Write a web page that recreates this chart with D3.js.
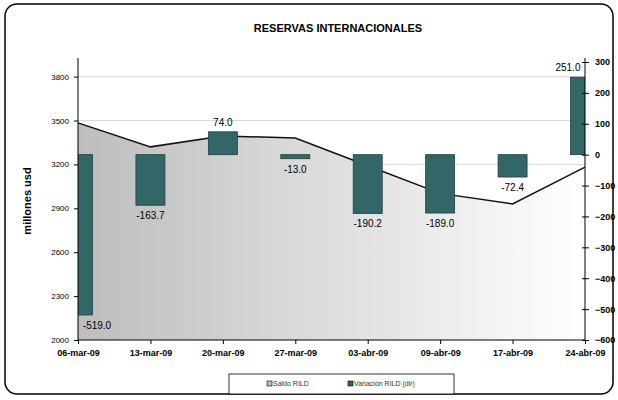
<!DOCTYPE html>
<html>
<head>
<meta charset="utf-8">
<script src="https://cdn.jsdelivr.net/npm/d3@7/dist/d3.min.js"></script>
<style>
  body { margin: 0; background: #fff; }
  text { font-family: "Liberation Sans", Arial, sans-serif; }
</style>
</head>
<body>
<div id="chart"></div>
<script>
var fechas = ['06-mar-09', '13-mar-09', '20-mar-09', '27-mar-09', '03-abr-09', '09-abr-09', '17-abr-09', '24-abr-09'];
var saldo = [3484, 3320, 3394, 3381, 3191, 3002, 2930, 3181];
var variacion = [-519.0, -163.7, 74.0, -13.0, -190.2, -189.0, -72.4, 251.0];
var leftTicks = [2000, 2300, 2600, 2900, 3200, 3500, 3800];
var rightTicks = [-600, -500, -400, -300, -200, -100, 0, 100, 200, 300];

var W = 618, H = 400;
var plotL = 78, plotR = 585, plotT = 62, plotB = 340;

var svg = d3.select('#chart').append('svg')
    .attr('width', W)
    .attr('height', H);

// outer frame
svg.append('rect')
    .attr('x', 5).attr('y', 4)
    .attr('width', 608).attr('height', 390)
    .attr('rx', 12)
    .attr('fill', '#fff')
    .attr('stroke', '#000')
    .attr('stroke-width', 1.5);

var x = d3.scalePoint()
    .domain(fechas)
    .range([plotL, plotR]);

var yL = d3.scaleLinear()
    .domain([2000, 3900])
    .range([plotB, plotT]);

var yR = d3.scaleLinear()
    .domain([-600, 300])
    .range([plotB, plotT]);

var defs = svg.append('defs');
var grad = defs.append('linearGradient')
    .attr('id', 'areaGrad')
    .attr('x1', '0%').attr('x2', '100%')
    .attr('y1', '0%').attr('y2', '0%');
grad.append('stop').attr('offset', '0%').attr('stop-color', '#bdbdbd');
grad.append('stop').attr('offset', '100%').attr('stop-color', '#ffffff');

defs.append('clipPath').attr('id', 'plotClip')
    .append('rect')
    .attr('x', plotL).attr('y', plotT)
    .attr('width', plotR - plotL).attr('height', plotB - plotT);

// gridlines
svg.append('g')
    .selectAll('line')
    .data(leftTicks.slice(1))
    .enter()
    .append('line')
    .attr('x1', plotL).attr('x2', plotR)
    .attr('y1', function(d) { return yL(d); })
    .attr('y2', function(d) { return yL(d); })
    .attr('stroke', '#d9d9d9')
    .attr('stroke-width', 1);

// area + line for saldo
var area = d3.area()
    .x(function(d, i) { return x(fechas[i]); })
    .y0(plotB)
    .y1(function(d) { return yL(d); });

svg.append('path')
    .datum(saldo)
    .attr('d', area)
    .attr('fill', 'url(#areaGrad)');

var line = d3.line()
    .x(function(d, i) { return x(fechas[i]); })
    .y(function(d) { return yL(d); });

svg.append('path')
    .datum(saldo)
    .attr('d', line)
    .attr('fill', 'none')
    .attr('stroke', '#111')
    .attr('stroke-width', 1.5);

// bars for variacion
var barW = 29;
svg.append('g')
    .attr('clip-path', 'url(#plotClip)')
    .selectAll('rect')
    .data(variacion)
    .enter()
    .append('rect')
    .attr('x', function(d, i) { return x(fechas[i]) - barW / 2; })
    .attr('y', function(d) { return yR(Math.max(0, d)); })
    .attr('width', barW)
    .attr('height', function(d) { return Math.abs(yR(d) - yR(0)); })
    .attr('fill', '#336666')
    .attr('stroke', '#1f3f3f')
    .attr('stroke-width', 0.8);

// data labels
svg.append('g')
    .selectAll('text')
    .data(variacion)
    .enter()
    .append('text')
    .attr('x', function(d, i) {
        var cx = x(fechas[i]);
        var half = 14;
        return Math.min(Math.max(cx, plotL + half + 5), plotR - half - 3);
    })
    .attr('y', function(d) { return d >= 0 ? yR(d) - 6 : yR(d) + 14; })
    .attr('text-anchor', 'middle')
    .attr('font-size', 10)
    .attr('fill', '#000')
    .text(function(d) { return d.toFixed(1); });

// axes
var axisL = d3.axisLeft(yL).tickValues(leftTicks).tickFormat(d3.format('d'))
    .tickSize(4).tickSizeOuter(0);
var gL = svg.append('g')
    .attr('transform', 'translate(' + plotL + ',0)')
    .call(axisL);
gL.select('.domain').remove();
gL.selectAll('text')
    .attr('font-family', '"Liberation Sans", Arial, sans-serif')
    .attr('font-size', 8)
    .attr('x', -9);

var axisR = d3.axisRight(yR).tickValues(rightTicks).tickFormat(d3.format('d'))
    .tickSize(4).tickSizeOuter(0);
var gR = svg.append('g')
    .attr('transform', 'translate(' + plotR + ',0)')
    .call(axisR);
gR.select('.domain').remove();
gR.selectAll('.tick line').attr('x1', -3);
gR.selectAll('text')
    .attr('font-family', '"Liberation Sans", Arial, sans-serif')
    .attr('font-size', 9)
    .attr('font-weight', 'bold')
    .attr('x', 10);

var axisB = d3.axisBottom(x).tickSize(4).tickSizeOuter(0);
var gB = svg.append('g')
    .attr('transform', 'translate(0,' + plotB + ')')
    .call(axisB);
gB.select('.domain').attr('d', 'M' + plotL + ',0H' + plotR);
gB.selectAll('text')
    .attr('font-family', '"Liberation Sans", Arial, sans-serif')
    .attr('font-size', 9)
    .attr('font-weight', 'bold')
    .attr('y', 10);

// vertical axis lines
svg.append('line')
    .attr('x1', plotL).attr('x2', plotL)
    .attr('y1', plotT - 4).attr('y2', plotB)
    .attr('stroke', '#000');
svg.append('line')
    .attr('x1', plotR).attr('x2', plotR)
    .attr('y1', plotT - 4).attr('y2', plotB)
    .attr('stroke', '#000');

// title
svg.append('text')
    .attr('x', 338).attr('y', 32)
    .attr('text-anchor', 'middle')
    .attr('font-size', 11)
    .attr('font-weight', 'bold')
    .text('RESERVAS INTERNACIONALES');

svg.append('text')
    .attr('transform', 'translate(31,201) rotate(-90)')
    .attr('text-anchor', 'middle')
    .attr('font-size', 11)
    .attr('font-weight', 'bold')
    .text('millones usd');

// legend
var legend = svg.append('g');
legend.append('rect')
    .attr('x', 229).attr('y', 374)
    .attr('width', 225).attr('height', 20)
    .attr('fill', '#fff')
    .attr('stroke', '#000')
    .attr('stroke-width', 0.8);

var legendItems = [
    { name: 'Saldo RILD', color: '#c0c0c0', x: 267 },
    { name: 'Variación RILD (dlr)', color: '#336666', x: 348 }
];
legendItems.forEach(function(it) {
    legend.append('rect')
        .attr('x', it.x).attr('y', 381)
        .attr('width', 5).attr('height', 5)
        .attr('fill', it.color)
        .attr('stroke', '#000')
        .attr('stroke-width', 0.6);
    legend.append('text')
        .attr('x', it.x + 6).attr('y', 386)
        .attr('font-size', 7)
        .attr('fill', '#333')
        .text(it.name);
});
</script>
</body>
</html>
